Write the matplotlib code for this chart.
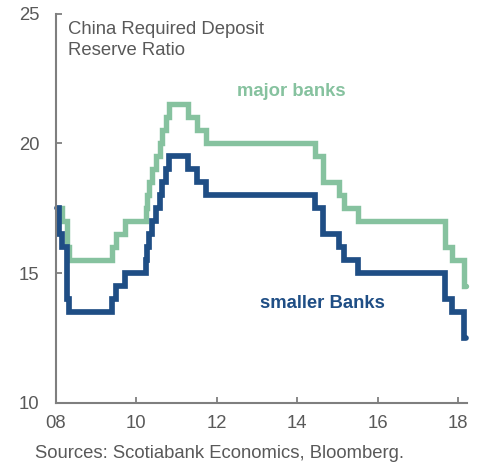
import matplotlib
matplotlib.use("Agg")
import matplotlib.pyplot as plt

plt.rcParams['font.family'] = ['Liberation Sans', 'DejaVu Sans']

# step change dates (two-digit year axis) and reserve ratio, %
major_x = [8.03, 8.14, 8.28, 8.33, 9.40, 9.50, 9.71, 10.23, 10.26, 10.32,
           10.40, 10.50, 10.58, 10.65, 10.73, 10.82, 11.28, 11.50, 11.73,
           14.45, 14.65, 15.03, 15.16, 15.51, 17.67, 17.86, 18.14, 18.20]
major_rrr = [17.5, 17.0, 16.0, 15.5, 16.0, 16.5, 17.0, 17.5, 18.0, 18.5,
             19.0, 19.5, 20.0, 20.5, 21.0, 21.5, 21.0, 20.5, 20.0,
             19.5, 18.5, 18.0, 17.5, 17.0, 16.0, 15.5, 14.5, 14.5]

small_x = [8.03, 8.08, 8.14, 8.28, 8.33, 9.40, 9.50, 9.71, 10.23, 10.26,
           10.32, 10.40, 10.50, 10.58, 10.65, 10.73, 10.82, 11.28, 11.50,
           11.73, 14.45, 14.65, 15.03, 15.16, 15.51, 17.67, 17.86, 18.14, 18.20]
small_rrr = [17.5, 16.5, 16.0, 14.0, 13.5, 14.0, 14.5, 15.0, 15.5, 16.0,
             16.5, 17.0, 17.5, 18.0, 18.5, 19.0, 19.5, 19.0, 18.5,
             18.0, 17.5, 16.5, 16.0, 15.5, 15.0, 14.0, 13.5, 12.5, 12.5]

x_ticks = [8, 10, 12, 14, 16, 18]
x_labels = ['08', '10', '12', '14', '16', '18']
y_ticks = [10, 15, 20, 25]

green = '#86c29f'
navy = '#1f4e85'
grey = '#595959'
fs = 13.3

fig = plt.figure(figsize=(4.83, 4.63), dpi=100)
ax = fig.add_axes([0.1159, 0.1296, 0.8504, 0.8412])

ax.plot(major_x, major_rrr, drawstyle='steps-post', color=green, lw=3.9,
        solid_capstyle='round', solid_joinstyle='miter', clip_on=False)
ax.plot(small_x, small_rrr, drawstyle='steps-post', color=navy, lw=4.1,
        solid_capstyle='round', solid_joinstyle='miter', clip_on=False)

ax.set_xlim(8, 18.22)
ax.set_ylim(10, 25)
ax.set_xticks(x_ticks)
ax.set_xticklabels(x_labels)
ax.set_yticks(y_ticks)

for side in ['top', 'right']:
    ax.spines[side].set_visible(False)
for side in ['left', 'bottom']:
    ax.spines[side].set_color('#7f7f7f')
    ax.spines[side].set_linewidth(1.5)

ax.tick_params(axis='both', direction='in', length=4, width=1.3,
               color='#7f7f7f', labelcolor=grey, labelsize=fs)
ax.tick_params(axis='y', pad=12)
ax.tick_params(axis='x', pad=9)

ax.text(8.31, 24.72, 'China Required Deposit\nReserve Ratio', color=grey,
        fontsize=fs, va='top', ha='left', linespacing=1.3)
ax.text(12.5, 21.98, 'major banks', color=green, fontsize=fs,
        fontweight='bold', va='center', ha='left')
ax.text(13.07, 13.85, 'smaller Banks', color=navy, fontsize=fs,
        fontweight='bold', va='center', ha='left')

fig.text(35 / 483, 1 - 458 / 463, 'Sources: Scotiabank Economics, Bloomberg.',
         color=grey, fontsize=fs, va='baseline', ha='left')

fig.savefig('out.png', dpi=100)
